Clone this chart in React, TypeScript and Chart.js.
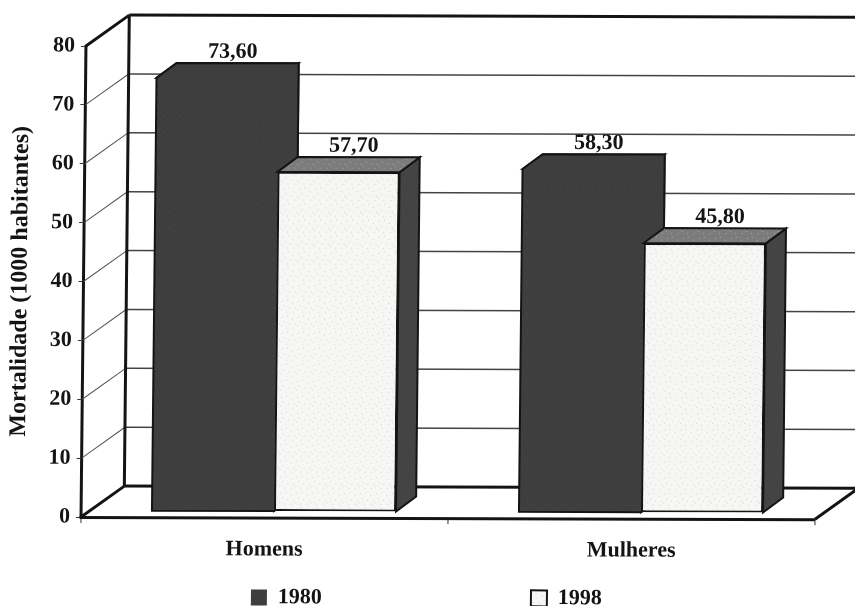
import { useEffect, useRef } from "react";
import { Chart, registerables } from "chart.js";

Chart.register(...registerables);

const categories = ["Homens", "Mulheres"];
const series1980 = [73.6, 58.3];
const series1998 = [57.7, 45.8];
const seriesNames = ["1980", "1998"];
const axisTitle = "Mortalidade (1000 habitantes)";

const SERIF = '"Liberation Serif", "Times New Roman", serif';
const BAR_DX = 9.4;
const BAR_DY = -6;
const BAR_DEPTH_X = 20;
const BAR_DEPTH_Y = -15;
const WALL_DX = 43;
const WALL_DY = -31;
const INK = "#141414";
const DARK = "#3e3e3e";

function stipple(base: string, dot: string): CanvasPattern | string {
  const c = document.createElement("canvas");
  c.width = 16;
  c.height = 16;
  const g = c.getContext("2d");
  if (!g) return base;
  g.fillStyle = base;
  g.fillRect(0, 0, 16, 16);
  g.fillStyle = dot;
  [[1, 2], [6, 1], [11, 4], [14, 9], [3, 7], [8, 9], [12, 13], [5, 13], [0, 11]].forEach(([x, y]) => g.fillRect(x, y, 1, 1));
  const p = g.createPattern(c, "repeat");
  return p || base;
}

const scanSkew = {
  id: "scanSkew",
  beforeDraw(chart: any) {
    const ctx = chart.ctx;
    ctx.save();
    ctx.transform(1, 0.003, -0.0105, 1, 2.94, -0.255);
  },
  afterDraw(chart: any) {
    chart.ctx.restore();
  },
};

const legendFix = {
  id: "legendFix",
  beforeLayout(chart: any) {
    const lg = chart.legend;
    if (lg && !lg.__wrapped) {
      const orig = lg.fit;
      lg.fit = function () {
        orig.call(this);
        this.height = 30;
      };
      lg.__wrapped = true;
    }
  },
  afterLayout(chart: any) {
    const lg = chart.legend;
    lg.top = 597 - 11 - lg.options.labels.padding;
    lg.left += 21;
    lg.right += 21;
  },
};

const walls = {
  id: "walls",
  beforeDatasetsDraw(chart: any) {
    const { ctx, chartArea: a, scales } = chart;
    const y = scales.y;
    const line = (x1: number, y1: number, x2: number, y2: number, w: number, col: string) => {
      ctx.beginPath();
      ctx.moveTo(x1, y1);
      ctx.lineTo(x2, y2);
      ctx.lineWidth = w;
      ctx.strokeStyle = col;
      ctx.stroke();
    };
    const bx = a.left + WALL_DX;
    const far = 900;
    y.ticks.forEach((t: any) => {
      const py = y.getPixelForValue(t.value);
      if (t.value !== 0 && t.value !== 80) {
        line(a.left, py, bx, py + WALL_DY, 1, "#555");
        line(bx, py + WALL_DY, far, py + WALL_DY, 1.5, "#444");
      }
    });
    const top = y.getPixelForValue(80);
    const bot = y.getPixelForValue(0);
    line(a.left, top, bx, top + WALL_DY, 3, INK);
    line(bx, top + WALL_DY, far, top + WALL_DY, 3, INK);
    line(bx, top + WALL_DY, bx, bot + WALL_DY, 3, INK);
    line(a.left, bot, bx, bot + WALL_DY, 3, INK);
    line(bx, bot + WALL_DY, a.right + WALL_DX, bot + WALL_DY, 3, INK);
    line(a.right, bot, a.right + WALL_DX, bot + WALL_DY, 3, INK);
  },
};

function drawFaces(ctx: any, meta: any, index: number) {
  const topFill = index === 0 ? DARK : stipple("#7c7c7c", "#a8a8a8");
  const sideFill = index === 0 ? DARK : "#444444";
  const edge = index === 0 ? DARK : INK;
  meta.data.forEach((b: any) => {
    const l = b.x - b.width / 2;
    const r = b.x + b.width / 2;
    const t = b.y;
    const base = b.base;
    ctx.lineWidth = 2;
    ctx.strokeStyle = edge;
    ctx.lineJoin = "miter";
    ctx.beginPath();
    ctx.moveTo(r, t);
    ctx.lineTo(r + BAR_DEPTH_X, t + BAR_DEPTH_Y);
    ctx.lineTo(r + BAR_DEPTH_X, base + BAR_DEPTH_Y);
    ctx.lineTo(r, base);
    ctx.closePath();
    ctx.fillStyle = sideFill;
    ctx.fill();
    ctx.stroke();
    ctx.beginPath();
    ctx.moveTo(l, t);
    ctx.lineTo(l + BAR_DEPTH_X, t + BAR_DEPTH_Y);
    ctx.lineTo(r + BAR_DEPTH_X, t + BAR_DEPTH_Y);
    ctx.lineTo(r, t);
    ctx.closePath();
    ctx.fillStyle = topFill;
    ctx.fill();
    ctx.stroke();
  });
}

// The dark boxes read as one flat silhouette: only their outer edge is inked.
function drawSilhouette(ctx: any, meta: any) {
  meta.data.forEach((b: any) => {
    const l = b.x - b.width / 2;
    const r = b.x + b.width / 2;
    ctx.beginPath();
    ctx.moveTo(l, b.y);
    ctx.lineTo(l + BAR_DEPTH_X, b.y + BAR_DEPTH_Y);
    ctx.lineTo(r + BAR_DEPTH_X, b.y + BAR_DEPTH_Y);
    ctx.lineTo(r + BAR_DEPTH_X, b.base + BAR_DEPTH_Y);
    ctx.lineTo(r, b.base);
    ctx.lineTo(l, b.base);
    ctx.closePath();
    ctx.lineWidth = 2;
    ctx.strokeStyle = INK;
    ctx.stroke();
  });
}

const bars3d = {
  id: "bars3d",
  beforeDatasetDraw(chart: any, args: any) {
    // The 1998 boxes stand in front of the 1980 boxes, so they are painted after them.
    if (args.index === 1) return false;
    const ctx = chart.ctx;
    ctx.save();
    ctx.translate(BAR_DX, BAR_DY);
    drawFaces(ctx, args.meta, args.index);
  },
  afterDatasetDraw(chart: any, args: any) {
    const ctx = chart.ctx;
    drawSilhouette(ctx, args.meta);
    ctx.restore();
    if (args.index === 0) {
      const front = chart.getDatasetMeta(1);
      ctx.save();
      ctx.translate(BAR_DX, BAR_DY);
      drawFaces(ctx, front, 1);
      front.controller.draw();
      ctx.restore();
    }
  },
  afterDatasetsDraw(chart: any) {
    const ctx = chart.ctx;
    ctx.save();
    ctx.font = `bold 22px ${SERIF}`;
    ctx.fillStyle = INK;
    ctx.textAlign = "center";
    ctx.textBaseline = "middle";
    chart.data.datasets.forEach((ds: any, i: number) => {
      chart.getDatasetMeta(i).data.forEach((b: any, j: number) => {
        const label = ds.data[j].toFixed(2).replace(".", ",");
        ctx.fillText(label, b.x + BAR_DX + 15, b.y + BAR_DY + BAR_DEPTH_Y - 11);
      });
    });
    ctx.restore();
  },
};

export default function App() {
  const ref = useRef<HTMLCanvasElement>(null);
  useEffect(() => {
    if (!ref.current) return;
    const chart = new Chart(ref.current, {
      type: "bar",
      data: {
        labels: categories,
        datasets: [
          {
            label: seriesNames[0],
            data: series1980,
            backgroundColor: stipple(DARK, "#4a4a4a"),
            borderColor: DARK,
            borderWidth: 0,
            borderSkipped: false,
            clip: false,
          },
          {
            label: seriesNames[1],
            data: series1998,
            backgroundColor: stipple("#f6f6f4", "#d2d2d0"),
            borderColor: INK,
            borderWidth: 2,
            borderSkipped: false,
            clip: false,
          },
        ],
      } as any,
      options: {
        responsive: false,
        animation: false,
        layout: { padding: { left: 0, right: 37.5, top: 46, bottom: 0 } },
        datasets: { bar: { categoryPercentage: 0.665, barPercentage: 1 } },
        plugins: {
          tooltip: { enabled: false },
          legend: {
            position: "bottom",
            labels: {
              boxWidth: 16,
              boxHeight: 16,
              padding: 209,
              color: INK,
              font: { family: SERIF, size: 22, weight: "bold" },
            },
          },
        },
        scales: {
          x: {
            afterFit(s: any) {
              s.height = 59;
            },
            grid: { offset: true, drawOnChartArea: false, drawTicks: true, tickLength: 6, color: "#333" },
            border: { display: true, color: INK, width: 3 },
            ticks: { color: INK, padding: 13, maxRotation: 0, font: { family: SERIF, size: 22, weight: "bold" } },
          },
          y: {
            min: 0,
            max: 80,
            afterFit(s: any) {
              s.width = 83.5;
            },
            title: {
              display: true,
              text: axisTitle,
              color: INK,
              padding: { top: 6, bottom: 0 },
              font: { family: SERIF, size: 24, weight: "bold" },
            },
            grid: { drawOnChartArea: false, drawTicks: true, tickLength: 5, color: "#333" },
            border: { display: true, color: INK, width: 3 },
            ticks: { stepSize: 10, color: INK, padding: 6, font: { family: SERIF, size: 22, weight: "bold" } },
          },
        },
      } as any,
      plugins: [legendFix, scanSkew, walls, bars3d],
    });
    return () => chart.destroy();
  }, []);
  return (
    <div style={{ position: "fixed", left: 0, top: 0, width: 855, height: 606, background: "#fff" }}>
      <canvas ref={ref} width={855} height={606} style={{ display: "block" }} />
    </div>
  );
}
